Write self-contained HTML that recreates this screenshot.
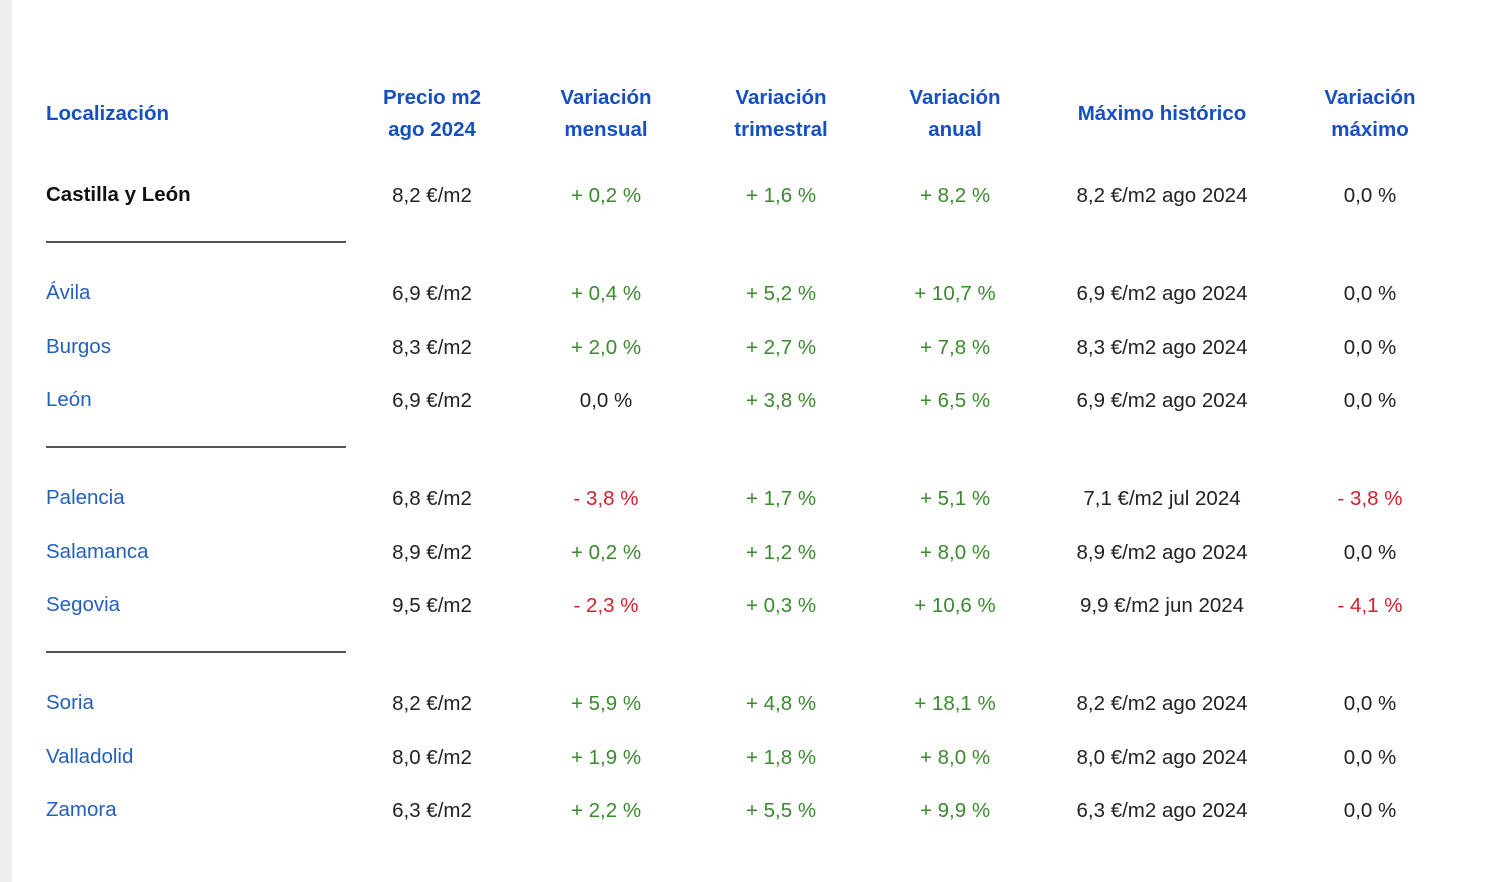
<!DOCTYPE html>
<html><head><meta charset="utf-8"><style>
body{margin:0;width:1500px;height:882px;background:#fff;position:relative;overflow:hidden;font-family:"Liberation Sans",sans-serif;}
.strip{position:absolute;left:0;top:0;width:12px;height:882px;background:#efefef;}
.t{position:absolute;white-space:nowrap;font-size:20.5px;line-height:24px;transform:translate(-50%,-50%);color:#222;}
.l{transform:translate(0,-50%);}
.h{color:#1450c0;font-weight:bold;}
.n{color:#2360bd;}
.g{color:#3a8a2e;}
.r{color:#d4202c;}
.b{font-weight:bold;color:#111;}
.line{position:absolute;left:46px;width:300px;height:2px;background:#555;}
</style></head><body>
<div class="strip"></div>
<div class="t l h" style="left:46px;top:114px">Localización</div>
<div class="t h" style="left:432px;top:98px">Precio m2</div><div class="t h" style="left:432px;top:130px">ago 2024</div>
<div class="t h" style="left:606px;top:98px">Variación</div><div class="t h" style="left:606px;top:130px">mensual</div>
<div class="t h" style="left:781px;top:98px">Variación</div><div class="t h" style="left:781px;top:130px">trimestral</div>
<div class="t h" style="left:955px;top:98px">Variación</div><div class="t h" style="left:955px;top:130px">anual</div>
<div class="t h" style="left:1162px;top:114px">Máximo histórico</div>
<div class="t h" style="left:1370px;top:98px">Variación</div><div class="t h" style="left:1370px;top:130px">máximo</div>
<div class="line" style="top:241px"></div>
<div class="line" style="top:446px"></div>
<div class="line" style="top:651px"></div>
<div id="rows"></div>
<script>
var d=[
[196,"Castilla y León","8,2","+ 0,2 %","+ 1,6 %","+ 8,2 %","8,2 €/m2 ago 2024","0,0 %",1],
[294,"Ávila","6,9","+ 0,4 %","+ 5,2 %","+ 10,7 %","6,9 €/m2 ago 2024","0,0 %"],
[348,"Burgos","8,3","+ 2,0 %","+ 2,7 %","+ 7,8 %","8,3 €/m2 ago 2024","0,0 %"],
[401,"León","6,9","0,0 %","+ 3,8 %","+ 6,5 %","6,9 €/m2 ago 2024","0,0 %"],
[499,"Palencia","6,8","- 3,8 %","+ 1,7 %","+ 5,1 %","7,1 €/m2 jul 2024","- 3,8 %"],
[553,"Salamanca","8,9","+ 0,2 %","+ 1,2 %","+ 8,0 %","8,9 €/m2 ago 2024","0,0 %"],
[606,"Segovia","9,5","- 2,3 %","+ 0,3 %","+ 10,6 %","9,9 €/m2 jun 2024","- 4,1 %"],
[704,"Soria","8,2","+ 5,9 %","+ 4,8 %","+ 18,1 %","8,2 €/m2 ago 2024","0,0 %"],
[758,"Valladolid","8,0","+ 1,9 %","+ 1,8 %","+ 8,0 %","8,0 €/m2 ago 2024","0,0 %"],
[811,"Zamora","6,3","+ 2,2 %","+ 5,5 %","+ 9,9 %","6,3 €/m2 ago 2024","0,0 %"]];
var xs=[432,606,781,955,1162,1370],h="";
function c(v){return v[0]=="+"?"g":v[0]=="-"?"r":"";}
d.forEach(function(r){var y=r[0];
h+='<div class="t l '+(r[8]?'b':'n')+'" style="left:46px;top:'+(y-1)+'px">'+r[1]+'</div>';
var v=[r[2]+" €/m2",r[3],r[4],r[5],r[6],r[7]];
v.forEach(function(s,i){h+='<div class="t '+(i>0?c(s):"")+'" style="left:'+xs[i]+'px;top:'+y+'px">'+s+'</div>';});});
document.getElementById("rows").innerHTML=h;
</script>
</body></html>
